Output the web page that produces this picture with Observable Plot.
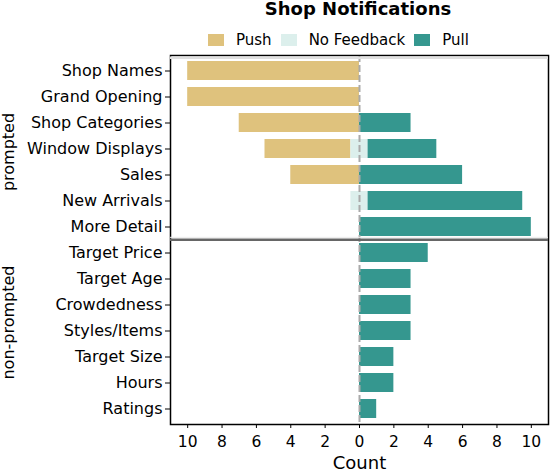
<!DOCTYPE html>
<html><head><meta charset="utf-8">
<script src="https://cdn.jsdelivr.net/npm/d3@7"></script>
<script src="https://cdn.jsdelivr.net/npm/@observablehq/plot@0.6"></script>
<style>
body{margin:0;background:#fff;font-family:"DejaVu Sans",sans-serif;}
#wrap{position:relative;width:550px;height:470px;overflow:hidden;}
#title{position:absolute;top:-2px;left:208px;width:300px;text-align:center;font-weight:bold;font-size:18px;line-height:22px;}
#legend{position:absolute;top:32px;left:208px;display:flex;align-items:center;font-size:15px;line-height:16px;white-space:nowrap;}
#legend .sw{width:16px;height:12px;margin-right:12px;}
#legend .lb{margin-right:9px;}
#chart{position:absolute;top:48px;left:0;}
</style></head><body>
<div id="wrap"><div id="title">Shop Notifications</div><div id="legend"></div><div id="chart"></div></div>
<script>
const categories = ["Shop Names","Grand Opening","Shop Categories","Window Displays","Sales","New Arrivals","More Detail",
  "Target Price","Target Age","Crowdedness","Styles/Items","Target Size","Hours","Ratings"];
const pushValues       = [10,10,7,5,4,0,0, 0,0,0,0,0,0,0];
const noFeedbackValues = [0,0,0,1,0,1,0, 0,0,0,0,0,0,0];
const pullValues       = [0,0,3,4,6,9,10, 4,3,3,3,2,2,1];
const groupNames = ["prompted","non-prompted"];
const groupSizes = [7,7];
const xTicks = [-10,-8,-6,-4,-2,0,2,4,6,8,10];
const seriesNames = ["Push","No Feedback","Pull"];
const seriesColors = ["#dfc27d","#dcefec","#35978f"];

// legend
const leg = document.getElementById("legend");
seriesNames.forEach((s,i)=>{
  const sw=document.createElement("div"); sw.className="sw"; sw.style.background=seriesColors[i]; leg.appendChild(sw);
  const lb=document.createElement("div"); lb.className="lb"; lb.textContent=s; leg.appendChild(lb);
});

// diverging stacked table
const bars = [];
categories.forEach((c,i)=>{
  const h = noFeedbackValues[i]/2;
  if (pushValues[i]) bars.push({cat:c, series:"Push", x1:-(h+pushValues[i]), x2:-h});
  if (noFeedbackValues[i]) bars.push({cat:c, series:"No Feedback", x1:-h, x2:h});
  if (pullValues[i]) bars.push({cat:c, series:"Pull", x1:h, x2:h+pullValues[i]});
});

const W=550, H=422, mT=7, mB=46, mL=170, mR=2;
const step = (H-mT-mB)/categories.length;
const firstOfGroup2 = categories[groupSizes[0]];

const chart = Plot.plot({
  width: W, height: H, marginTop: mT, marginBottom: mB, marginLeft: mL, marginRight: mR,
  style: {fontFamily: "DejaVu Sans", fontSize: "16px", color: "black", background: "white", overflow: "visible"},
  x: {domain: [-11, 11]},
  y: {domain: categories, paddingInner: 0.28, paddingOuter: 0.14},
  color: {domain: seriesNames, range: seriesColors},
  marks: [
    Plot.barX(bars, {x1: "x1", x2: "x2", y: "cat", fill: "series"}),
    Plot.ruleX([0], {stroke: "#aaa", strokeWidth: 2, strokeDasharray: "7,3"}),
    Plot.frame({stroke: "black", strokeWidth: 1.5}),
    Plot.ruleY([categories[0]], {y: d=>d, dy: -step/2, stroke: "#e0e0e0", strokeWidth: 2.5}),
    Plot.ruleY([firstOfGroup2], {y: d=>d, dy: -step/2 - 2.5, stroke: "#ececec", strokeWidth: 1}),
    Plot.ruleY([firstOfGroup2], {y: d=>d, dy: -step/2, stroke: "#666", strokeWidth: 2.5}),
    Plot.axisY({tickSize: 5, tickPadding: 3, fontSize: 16, label: null}),
    Plot.axisX({ticks: xTicks, tickFormat: d=>Math.abs(d), tickSize: 4, tickPadding: 7, fontSize: 15.5, label: null}),
    Plot.text([{t: "Count", x: 0}], {x: "x", text: "t", frameAnchor: "bottom", dy: 38.5, lineAnchor: "middle", fontSize: 18}),
    Plot.text([groupNames[0]], {y: () => categories[3], text: d=>d, frameAnchor: "left", dx: -162, dy: 3, rotate: -90, lineAnchor: "middle", textAnchor: "middle", fontSize: 16}),
    Plot.text([groupNames[1]], {y: () => categories[10], text: d=>d, frameAnchor: "left", dx: -162, dy: -8.5, rotate: -90, lineAnchor: "middle", textAnchor: "middle", fontSize: 16})
  ]
});
document.getElementById("chart").appendChild(chart);
</script>
</body></html>
